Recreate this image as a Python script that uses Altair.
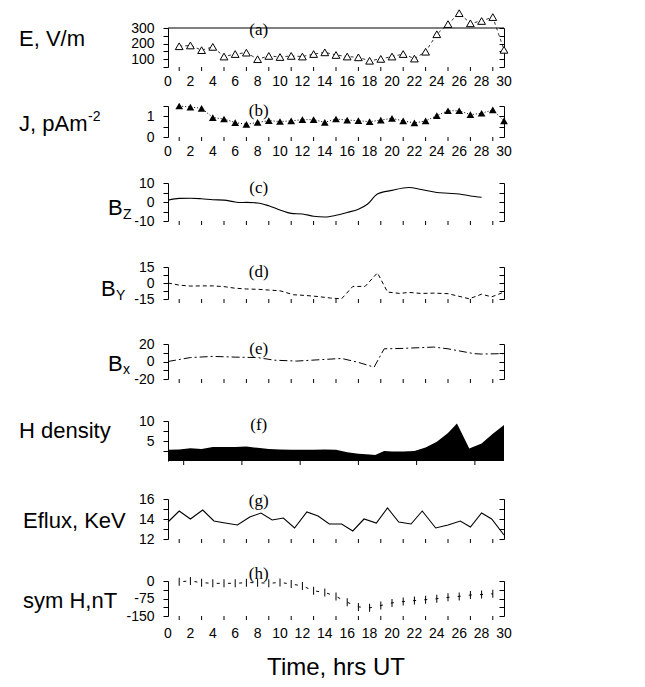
import altair as alt
import pandas as pd

# ---------------- data ----------------
hours = list(range(1, 31))
e_field = [183, 188, 158, 179, 117, 133, 142, 100, 121, 114, 121, 117, 133, 144, 127,
           117, 112, 90, 102, 117, 133, 104, 148, 260, 325, 395, 330, 345, 370, 160]
j_density = [1.50, 1.45, 1.39, 0.94, 0.87, 0.70, 0.61, 0.71, 0.79, 0.75, 0.78, 0.84, 0.84, 0.71, 0.87,
             0.82, 0.79, 0.74, 0.82, 0.90, 0.78, 0.68, 0.78, 1.03, 1.27, 1.27, 1.08, 1.15, 1.31, 0.78]

bz_time = [0, 1, 2, 3, 4, 5, 6, 6.5, 7, 8, 9, 10, 11, 12, 13, 14, 15, 16, 17, 17.8,
           18.7, 20, 21.5, 22.6, 24, 25, 26, 27, 28]
bz_vals = [1.0, 1.9, 2.0, 1.7, 1.2, 1.0, 0.0, -0.3, -0.2, -0.5, -2.0, -4.2, -6.0, -6.3, -7.5,
           -7.9, -7.0, -5.5, -3.8, -1.2, 4.2, 6.1, 7.6, 6.6, 5.0, 4.6, 4.2, 3.2, 2.5]

by_time = [0, 1, 2, 3, 4, 5, 6, 7, 8, 9, 10, 11.2, 12.3, 13.4, 14.5, 15.5, 16.5, 17.6, 18.7,
           19.6, 20.7, 21.5, 22.6, 23.7, 25, 26.9, 28, 28.9, 30]
by_vals = [0, -2.0, -2.9, -2.7, -2.7, -3.4, -4.9, -5.6, -5.9, -6.6, -7.3, -11.0, -11.7, -12.7,
           -14.1, -14.8, -3.2, -3.2, 9.5, -8.5, -9.8, -8.8, -9.8, -9.5, -10.0, -14.8, -10.5, -13.0, -8.5]

bx_time = [0, 2, 4, 6, 8, 9.5, 11.5, 13.5, 15.5, 17, 18.4, 19.3, 21, 23.7, 25, 27.3, 28, 30]
bx_vals = [0, 4.5, 5.8, 5.0, 4.5, 1.5, 0.5, 2.0, 3.5, -1.0, -6.5, 14.5, 15.0, 16.5, 14.5, 9.0, 8.5, 9.0]

hd_time = [0, 1, 2, 3, 4, 5, 6, 7, 8, 9, 10, 11, 12, 13, 14, 15, 16, 17, 18, 18.5, 19.3, 20,
           21, 22, 23, 24, 25, 25.8, 26.9, 28, 29, 30]
hd_vals = [2.8, 2.9, 3.2, 3.0, 3.5, 3.5, 3.5, 3.6, 3.3, 3.0, 2.9, 2.8, 2.8, 2.8, 2.9, 2.8, 2.2,
           1.8, 1.6, 1.5, 2.5, 2.4, 2.4, 2.5, 3.4, 4.8, 7.0, 9.4, 3.1, 4.4, 6.8, 9.0]

ef_time = [0, 1.0, 2.0, 3.1, 4.1, 5.1, 6.2, 7.3, 8.3, 9.3, 10.3, 11.3, 12.4, 13.4, 14.4, 15.5,
           16.5, 17.5, 18.6, 19.6, 20.6, 21.7, 22.7, 23.9, 25.0, 26.1, 27.0, 28.0, 28.9, 30]
ef_vals = [13.7, 14.8, 14.0, 14.9, 13.8, 13.6, 13.4, 14.2, 14.6, 13.9, 14.1, 13.1, 14.7, 14.3,
           13.5, 13.5, 12.8, 14.0, 13.6, 15.1, 13.7, 13.5, 14.8, 13.1, 13.4, 13.8, 13.2, 14.6, 14.0, 12.4]

sym_time = list(range(1, 30))
sym_vals = [-3, 0, -7, -10, -10, -10, -7, -7, -10, -6, -13, -21, -42, -49, -66, -91, -111,
            -115, -105, -94, -88, -84, -80, -76, -70, -66, -60, -58, -55]

x_major = list(range(0, 31, 2))
x_major_text = [str(v) for v in x_major]
x_minor = list(range(1, 30, 2))
f_major = [4.0, 9.2, 14.4, 19.6, 24.8, 30.0]
f_minor = [1.4, 6.6, 11.8, 17.0, 22.2, 27.4]
tag_x = 8.1

# ---------------- helpers ----------------
W = 336
SANS = "Liberation Sans"
SERIF = "Liberation Serif"
XS = alt.Scale(domain=[0, 30], nice=False, zero=False)
LBL = 22
TICKF = 14


def x_axis(values=None):
    return alt.Axis(values=values if values is not None else x_major, labels=False, ticks=True,
                    tickSize=7, tickColor="black", tickWidth=1, domainColor="black",
                    domainWidth=1, grid=False, title=None)


def y_left(values, shown):
    arr = ",".join(str(v) for v in shown)
    return alt.Axis(orient="left", values=values, tickSize=5, tickColor="black", tickWidth=1,
                    domainColor="black", domainWidth=1, grid=False, labelFont=SANS,
                    labelFontSize=TICKF, labelColor="black", labelPadding=9, labelFlush=False,
                    labelOverlap=False, title=None,
                    labelExpr=f"indexof([{arr}], datum.value) >= 0 ? '' + datum.value : ''")


def y_right(values):
    return alt.Axis(orient="right", values=values, labels=False, tickSize={"expr": "-5"},
                    tickColor="black", tickWidth=1, domainColor="black", domainWidth=1,
                    grid=False, title=None)


def minor_ticks(vals, h, length=4):
    return alt.Chart(pd.DataFrame({"t": vals})).mark_rule(color="black", strokeWidth=1).encode(
        x=alt.X("t:Q", scale=XS, axis=None), y=alt.value(h), y2=alt.value(h + length))


def x_labels(y):
    return alt.Chart(pd.DataFrame({"t": x_major, "s": x_major_text})).mark_text(
        font=SANS, fontSize=TICKF, baseline="middle", color="black").encode(
        x=alt.X("t:Q", scale=XS, axis=None), y=alt.value(y), text="s:N")


def text_at(txt, x, y, size, font=SANS, align="left"):
    return alt.Chart(pd.DataFrame({"s": [txt]})).mark_text(
        font=font, fontSize=size, align=align, baseline="middle", color="black").encode(
        x=alt.value(x), y=alt.value(y), text="s:N")


def panel_tag(tag, y):
    return alt.Chart(pd.DataFrame({"t": [tag_x], "s": [tag]})).mark_text(
        font=SERIF, fontSize=17, baseline="middle", color="black").encode(
        x=alt.X("t:Q", scale=XS, axis=None), y=alt.value(y), text="s:N")


def anchor(y):
    # invisible (white) 1px rule that fixes the layout bounds of a panel
    return alt.Chart(pd.DataFrame({"k": [0]})).mark_rule(color="white", strokeWidth=1).encode(
        x=alt.value(-161.5), x2=alt.value(-160.5), y=alt.value(y))


def series_line(t, v, yscale, yax, **mk):
    df = pd.DataFrame({"t": t, "v": v})
    return alt.Chart(df).mark_line(color="black", clip=False, **mk).encode(
        x=alt.X("t:Q", scale=XS, axis=x_axis()), y=alt.Y("v:Q", scale=yscale, axis=yax))


def right_frame(yscale, values, t, v):
    return alt.Chart(pd.DataFrame({"t": t, "v": v})).mark_point(opacity=0).encode(
        x=alt.X("t:Q", scale=XS, axis=None), y=alt.Y("v:Q", scale=yscale, axis=y_right(values)))


# slot layout: panel tops and heights (px)
TOPS = [27, 105, 182, 266, 343, 420, 498, 580]
HTS = [39, 31, 38, 32, 35, 40, 40, 35]
SLOTS = [5, 95, 167, 243, 320, 400, 480, 555, 686]


def anchors(i):
    t = TOPS[i]
    top_off = 0.5 if i == 0 else 1.5
    return [anchor(SLOTS[i] - t + top_off), anchor(SLOTS[i + 1] - t - 1.5)]


# ---------------- panel (a) ----------------
Ha = HTS[0]
ya = alt.Scale(domain=[50, 300], nice=False, zero=False)
ya_ticks = [50, 100, 150, 200, 250, 300]
panel_a = alt.layer(
    *anchors(0),
    alt.Chart(pd.DataFrame({"k": [0]})).mark_rule(color="black", strokeWidth=1).encode(
        x=alt.value(0), x2=alt.value(W), y=alt.value(0)),
    series_line(hours, e_field, ya, y_left(ya_ticks, [100, 200, 300]),
                strokeWidth=0.8, strokeDash=[3, 3]),
    alt.Chart(pd.DataFrame({"t": hours, "v": e_field})).mark_point(
        shape="triangle-up", filled=True, fill="white", stroke="black", strokeWidth=1,
        size=60, opacity=1, clip=False).encode(
        x=alt.X("t:Q", scale=XS, axis=None), y=alt.Y("v:Q", scale=ya, axis=y_right(ya_ticks))),
    minor_ticks(x_minor, Ha),
    x_labels(Ha + 15),
    panel_tag("(a)", 2),
    text_at("E, V/m", -149, 11, LBL),
).properties(width=W, height=Ha).resolve_axis(y="independent")

# ---------------- panel (b) ----------------
Hb = HTS[1]
yb = alt.Scale(domain=[0, 1.5], nice=False, zero=False)
yb_ticks = [0, 0.5, 1, 1.5]
panel_b = alt.layer(
    *anchors(1),
    series_line(hours, j_density, yb, y_left(yb_ticks, [0, 1]), strokeWidth=1, strokeDash=[1, 2]),
    alt.Chart(pd.DataFrame({"t": hours, "v": j_density})).mark_point(
        shape="triangle-up", filled=True, color="black", size=60, opacity=1, clip=False).encode(
        x=alt.X("t:Q", scale=XS, axis=None), y=alt.Y("v:Q", scale=yb, axis=y_right(yb_ticks))),
    minor_ticks(x_minor, Hb),
    x_labels(Hb + 15),
    panel_tag("(b)", 5),
    text_at("J, pAm", -149, 18, LBL),
    text_at("-2", -80, 11, 14),
).properties(width=W, height=Hb).resolve_axis(y="independent")

# ---------------- panel (c) ----------------
Hc = HTS[2]
yc = alt.Scale(domain=[-10, 10], nice=False, zero=False)
yc_ticks = [-10, -5, 0, 5, 10]
panel_c = alt.layer(
    *anchors(2),
    series_line(bz_time, bz_vals, yc, y_left(yc_ticks, [-10, 0, 10]),
                strokeWidth=1.1, interpolate="monotone"),
    right_frame(yc, yc_ticks, bz_time, bz_vals),
    minor_ticks(x_minor, Hc),
    panel_tag("(c)", 5),
    text_at("B", -60, 25, LBL),
    text_at("Z", -45, 32, 14),
).properties(width=W, height=Hc).resolve_axis(y="independent")

# ---------------- panel (d) ----------------
Hd = HTS[3]
yd = alt.Scale(domain=[-15, 15], nice=False, zero=False)
yd_ticks = [-15, -7.5, 0, 7.5, 15]
panel_d = alt.layer(
    *anchors(3),
    series_line(by_time, by_vals, yd, y_left(yd_ticks, [-15, 0, 15]),
                strokeWidth=1, strokeDash=[4, 3]),
    right_frame(yd, yd_ticks, by_time, by_vals),
    minor_ticks(x_minor, Hd),
    panel_tag("(d)", 5),
    text_at("B", -67, 22, LBL),
    text_at("Y", -52, 29, 14),
).properties(width=W, height=Hd).resolve_axis(y="independent")

# ---------------- panel (e) ----------------
He = HTS[4]
ye = alt.Scale(domain=[-20, 20], nice=False, zero=False)
ye_ticks = [-20, -10, 0, 10, 20]
panel_e = alt.layer(
    *anchors(4),
    series_line(bx_time, bx_vals, ye, y_left(ye_ticks, [-20, 0, 20]),
                strokeWidth=1, strokeDash=[8, 3, 2, 3]),
    right_frame(ye, ye_ticks, bx_time, bx_vals),
    minor_ticks(x_minor, He),
    panel_tag("(e)", 5),
    text_at("B", -60, 20, LBL),
    text_at("x", -45, 26, 14),
).properties(width=W, height=He).resolve_axis(y="independent")

# ---------------- panel (f) ----------------
Hf = HTS[5]
yf = alt.Scale(domain=[0, 10], nice=False, zero=False)
yf_ticks = [2.5, 5, 7.5, 10]
panel_f = alt.layer(
    *anchors(5),
    alt.Chart(pd.DataFrame({"t": hd_time, "v": hd_vals})).mark_area(color="black", opacity=1).encode(
        x=alt.X("t:Q", scale=XS, axis=x_axis(values=f_major)),
        y=alt.Y("v:Q", scale=yf, axis=y_left(yf_ticks, [5, 10])),
        y2=alt.value(Hf)),
    minor_ticks(f_minor, Hf),
    panel_tag("(f)", 4),
    text_at("H density", -149, 10, LBL),
).properties(width=W, height=Hf)

# ---------------- panel (g) ----------------
Hg = HTS[6]
yg = alt.Scale(domain=[12, 16], nice=False, zero=False)
yg_ticks = [12, 13, 14, 15, 16]
panel_g = alt.layer(
    *anchors(6),
    series_line(ef_time, ef_vals, yg, y_left(yg_ticks, [12, 14, 16]), strokeWidth=1.1),
    right_frame(yg, yg_ticks, ef_time, ef_vals),
    minor_ticks(x_minor, Hg),
    panel_tag("(g)", 2),
    text_at("Eflux, KeV", -145, 22, LBL),
).properties(width=W, height=Hg).resolve_axis(y="independent")

# ---------------- panel (h) ----------------
Hh = HTS[7]
yh = alt.Scale(domain=[-150, 0], nice=False, zero=False)
yh_ticks = [-150, -112.5, -75, -37.5, 0]
panel_h = alt.layer(
    anchor(SLOTS[7] - TOPS[7] + 1.5),
    series_line(sym_time, sym_vals, yh, y_left(yh_ticks, [-150, -75, 0]),
                strokeWidth=1, strokeDash=[3, 8.2], strokeDashOffset=7.1),
    alt.Chart(pd.DataFrame({"t": sym_time, "v": sym_vals})).mark_tick(
        orient="vertical", size=8, thickness=1, color="black", opacity=1, clip=False).encode(
        x=alt.X("t:Q", scale=XS, axis=None), y=alt.Y("v:Q", scale=yh, axis=y_right(yh_ticks))),
    minor_ticks(x_minor, Hh),
    x_labels(Hh + 18),
    text_at("Time, hrs UT", W / 2, Hh + 52, 24, align="center"),
    panel_tag("(h)", -7),
    text_at("sym H,nT", -145, 20, LBL),
).properties(width=W, height=Hh).resolve_axis(y="independent")

chart = alt.vconcat(
    panel_a, panel_b, panel_c, panel_d, panel_e, panel_f, panel_g, panel_h, spacing=0,
).configure_view(stroke="transparent").properties(background="white")

chart.save("out.html", embed_options={"renderer": "svg", "actions": False})
